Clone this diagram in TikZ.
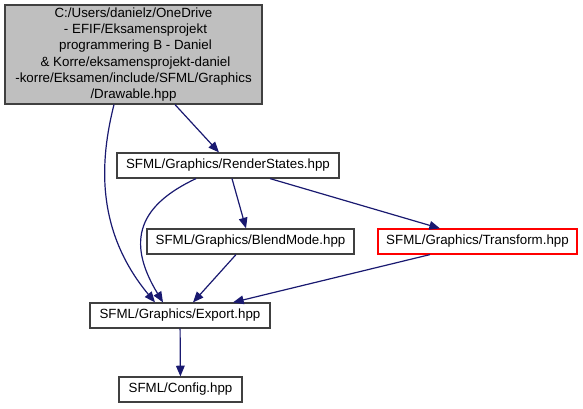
\documentclass[tikz,border=0pt]{standalone}
\usepackage{fontspec}
\setmainfont{Liberation Sans}
\usetikzlibrary{arrows.meta}
\definecolor{edgecol}{HTML}{191970}
\begin{document}
\begin{tikzpicture}[x=0.75pt,y=-0.75pt,
  box/.style={draw=black!75,line width=0.9pt,fill=white,inner sep=0pt,font=\fontsize{10}{11.5}\selectfont},
  dep/.style={draw=edgecol,line width=0.9pt,-{Triangle[length=8pt,width=6.5pt]}}]
\useasboundingbox (0,0) rectangle (583,409);
\node[box,fill=black!25,minimum width=257*0.75pt,minimum height=99*0.75pt,align=center,font=\fontsize{10}{12.2}\selectfont] (top) at (133.5,54.5)
 {C:/Users/danielz/OneDrive\\ \hspace*{0.3em}- EFIF/Eksamensprojekt\\ \hspace*{0.3em}programmering B - Daniel\\ \hspace*{0.3em}\& Korre/eksamensprojekt-daniel\\ -korre/Eksamen/include/SFML/Graphics\\ /Drawable.hpp};
\node[box,minimum width=222*0.75pt,minimum height=25*0.75pt] (rs) at (228,165.5) {SFML/Graphics/RenderStates.hpp};
\node[box,minimum width=207*0.75pt,minimum height=25*0.75pt] (bm) at (250.5,241.5) {SFML/Graphics/BlendMode.hpp};
\node[box,draw=red,minimum width=199*0.75pt,minimum height=25*0.75pt] (tf) at (477.5,241.5) {SFML/Graphics/Transform.hpp};
\node[box,minimum width=180*0.75pt,minimum height=25*0.75pt] (ex) at (180,315.5) {SFML/Graphics/Export.hpp};
\node[box,minimum width=123*0.75pt,minimum height=25*0.75pt] (cf) at (180.5,389.5) {SFML/Config.hpp};
\draw[dep] (top.south -| 175,0) -- (rs.north -| 219,0);
\draw[dep] (top.south -| 114,0) .. controls (100,160) and (95,230) .. (ex.north -| 155,0);
\draw[dep] (rs.south -| 196,0) .. controls (140,205) and (125,240) .. (ex.north -| 163,0);
\draw[dep] (rs.south -| 232,0) -- (bm.north -| 246,0);
\draw[dep] (rs.south -| 270,0) -- (tf.north -| 440,0);
\draw[dep] (bm.south -| 236,0) -- (ex.north -| 193,0);
\draw[dep] (tf.south -| 430,0) -- (ex.north -| 233,0);
\draw[dep] (ex) -- (cf);
\end{tikzpicture}
\end{document}
